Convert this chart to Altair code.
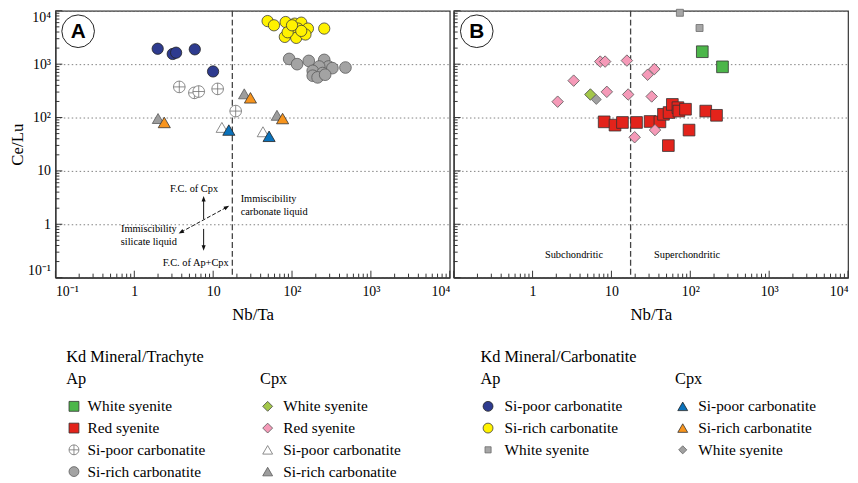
import altair as alt
import pandas as pd

SERIF = "Liberation Serif"
SANS = "Liberation Sans"
AX = "#333333"

# ---------------- values ----------------
# Panel A
tr_ap_sirich_x = [92, 116, 163, 256, 290, 221, 183, 244, 325, 183, 211, 476, 263]
tr_ap_sirich_y = [1253, 1000, 1151, 1202, 903, 903, 751, 681, 843, 607, 565, 865, 634]
tr_ap_sipoor_x = [3.72, 5.78, 6.56, 11.4, 19.3]
tr_ap_sipoor_y = [375, 290, 307, 344, 132]
tr_cpx_sirich_x = [2.0, 24.8, 64.4]
tr_cpx_sirich_y = [95.8, 278, 110]
tr_cpx_sipoor_x = [12.9, 42.8]
tr_cpx_sipoor_y = [65.3, 54.1]
ca_ap_sipoor_x = [1.98, 3.07, 3.39, 5.85, 9.97]
ca_ap_sipoor_y = [1945, 1552, 1640, 1896, 730]
ca_ap_sirich_x = [49, 59, 83, 108, 131, 159, 119, 98, 113, 81, 148, 256, 88, 131, 100]
ca_ap_sirich_y = [6415, 5346, 6150, 5745, 5995, 4645, 4645, 4018, 3110, 3245, 3594, 4645, 3960, 4200, 5350]
ca_cpx_sirich_x = [2.40, 29.7, 75.9]
ca_cpx_sirich_y = [80.8, 234, 95.7]
ca_cpx_sipoor_x = [15.8, 51.2]
ca_cpx_sipoor_y = [58.2, 44.5]

# Panel B
tr_ap_white_x = [142, 256]
tr_ap_white_y = [1711, 891]
tr_ap_red_x = [8.09, 11.1, 13.8, 20.8, 30.9, 41.2, 45.7, 53.8, 59.2, 69.7, 71.7, 86.9, 157, 215, 96.4, 52.7]
tr_ap_red_y = [83.0, 72.0, 80.8, 80.8, 84.3, 83.0, 115, 124, 176, 153, 132, 143, 132, 110, 58.2, 29.8]
tr_cpx_white_x = [5.41]
tr_cpx_white_y = [270]
tr_cpx_red_x = [7.21, 8.32, 15.7, 3.32, 2.08, 8.74, 16.3, 28.8, 35.0, 32.4, 35.7, 19.7]
tr_cpx_red_y = [1117, 1117, 1166, 491, 198, 303, 270, 634, 808, 248, 58.2, 42.7]
ca_ap_white_x = [73.8, 131]
ca_ap_white_y = [9180, 4760]
ca_cpx_white_x = [6.43]
ca_cpx_white_y = [218]

chondritic = [17.5]

axis_values = [0.1, 1, 10, 100, 1000, 10000]
minor_values = [m * 10.0 ** e for e in range(-1, 4) for m in range(2, 10)]

series = [
    ("A", "TrAp", "Si-rich carbonatite", tr_ap_sirich_x, tr_ap_sirich_y),
    ("A", "TrAp", "Si-poor carbonatite", tr_ap_sipoor_x, tr_ap_sipoor_y),
    ("A", "TrCpx", "Si-rich carbonatite", tr_cpx_sirich_x, tr_cpx_sirich_y),
    ("A", "TrCpx", "Si-poor carbonatite", tr_cpx_sipoor_x, tr_cpx_sipoor_y),
    ("A", "CaAp", "Si-poor carbonatite", ca_ap_sipoor_x, ca_ap_sipoor_y),
    ("A", "CaAp", "Si-rich carbonatite", ca_ap_sirich_x, ca_ap_sirich_y),
    ("A", "CaCpx", "Si-rich carbonatite", ca_cpx_sirich_x, ca_cpx_sirich_y),
    ("A", "CaCpx", "Si-poor carbonatite", ca_cpx_sipoor_x, ca_cpx_sipoor_y),
    ("B", "TrAp", "White syenite", tr_ap_white_x, tr_ap_white_y),
    ("B", "TrAp", "Red syenite", tr_ap_red_x, tr_ap_red_y),
    ("B", "TrCpx", "White syenite", tr_cpx_white_x, tr_cpx_white_y),
    ("B", "TrCpx", "Red syenite", tr_cpx_red_x, tr_cpx_red_y),
    ("B", "CaAp", "White syenite", ca_ap_white_x, ca_ap_white_y),
    ("B", "CaCpx", "White syenite", ca_cpx_white_x, ca_cpx_white_y),
]
rows = []
for panel, grp, label, xs, ys in series:
    for xv, yv in zip(xs, ys):
        rows.append({"panel": panel, "group": grp, "label": label, "x": xv, "y": yv})
df = pd.DataFrame(rows)

# annotations (data coordinates)
ann_center = pd.DataFrame({
    "x": [5.73, 1.53, 1.53, 6.0],
    "y": [4.5, 0.82, 0.46, 0.19],
    "t": ["F.C. of Cpx", "Immiscibility", "silicate liquid", "F.C. of Ap+Cpx"],
})
ann_left = pd.DataFrame({
    "x": [22.3, 22.3],
    "y": [3.0, 1.7],
    "t": ["Immiscibility", "carbonate liquid"],
})
arrow_solid = pd.DataFrame({"x": [7.57, 7.57], "y": [1.25, 0.818], "x2": [7.57, 7.57], "y2": [2.9, 0.38]})
arrow_dash = pd.DataFrame({"x": [3.91], "y": [0.711], "x2": [14.9], "y2": [2.09]})
arrow_heads = pd.DataFrame({"x": [7.57, 7.57, 14.9, 3.91], "y": [3.0, 0.36, 2.09, 0.711], "a": [0, 180, 61, 241]})
ann_b = pd.DataFrame({"x": [3.35, 91], "y": [0.262, 0.262], "t": ["Subchondritic", "Superchondritic"]})
badges = {"A": (0.194, 4140), "B": (0.196, 4140)}

PLUS_CIRCLE = "M-1,0A1,1,0,1,1,1,0A1,1,0,1,1,-1,0ZM-1,0L1,0M0,-1L0,1"
SMALL_SQUARE = "M-0.62,-0.62L0.62,-0.62L0.62,0.62L-0.62,0.62Z"
SMALL_DIAMOND = "M0,-0.82L0.82,0L0,0.82L-0.82,0Z"
ARROW = "M0,-1L0.75,1L-0.75,1Z"

GROUPS = {
    "TrAp": dict(
        domain=["White syenite", "Red syenite", "Si-poor carbonatite", "Si-rich carbonatite"],
        fill=["#4cb64a", "#e3231b", "#ffffff", "#a3a3a3"],
        stroke=["#333333", "#333333", "#707070", "#5a5a5a"],
        shape=["square", "square", PLUS_CIRCLE, "circle"],
        size=140, title=["Kd Mineral/Trachyte", "Ap"], lx=11, lo=6, owner="A"),
    "TrCpx": dict(
        domain=["White syenite", "Red syenite", "Si-poor carbonatite", "Si-rich carbonatite"],
        fill=["#a3c74a", "#f59ab8", "#ffffff", "#9d9d9d"],
        stroke=["#444444", "#555555", "#707070", "#5a5a5a"],
        shape=["diamond", "diamond", "triangle-up", "triangle-up"],
        size=135, title=["", "Cpx"], lx=207, lo=8, owner="A"),
    "CaAp": dict(
        domain=["Si-poor carbonatite", "Si-rich carbonatite", "White syenite"],
        fill=["#2e3b8f", "#fff200", "#a6a6a6"],
        stroke=["#222222", "#3a3a3a", "#6a6a6a"],
        shape=["circle", "circle", SMALL_SQUARE],
        size=130, title=["Kd Mineral/Carbonatite", "Ap"], lx=27, lo=9, owner="B"),
    "CaCpx": dict(
        domain=["Si-poor carbonatite", "Si-rich carbonatite", "White syenite"],
        fill=["#0b72bb", "#f7941d", "#a0a0a0"],
        stroke=["#222222", "#333333", "#666666"],
        shape=["triangle-up", "triangle-up", SMALL_DIAMOND],
        size=150, title=["", "Cpx"], lx=224, lo=8, owner="B"),
}
ORDER = ["TrAp", "TrCpx", "CaAp", "CaCpx"]

W, H = 399, 270
LABELS_EXPR_A = "['10\u207b\u00b9','1','10','10\u00b2','10\u00b3','10\u2074'][round(log(datum.value)/LN10)+1]"
LABELS_EXPR_B = "['','1','10','10\u00b2','10\u00b3','10\u2074'][round(log(datum.value)/LN10)+1]"


def make_legend(g):
    return alt.Legend(
        orient="none", legendX=g["lx"], legendY=342, direction="vertical",
        title=g["title"], titleFont=SERIF, titleFontSize=16.5, titleFontWeight="normal",
        titleColor="black", titleLineHeight=23, titlePadding=11, titleLimit=0,
        labelFont=SERIF, labelFontSize=15.5, labelColor="black", labelOffset=g["lo"], labelLimit=0,
        rowPadding=5, symbolSize=100, symbolStrokeWidth=0.8, padding=0,
    )


def make_panel(pid):
    first = pid == "A"
    xs = alt.Scale(type="log", domain=[0.1, 10000], nice=False)
    ys = alt.Scale(type="log", domain=[0.1, 10000], nice=False)
    xaxis = alt.Axis(values=axis_values, labelExpr=LABELS_EXPR_A if first else LABELS_EXPR_B,
                     tickSize=0, grid=False, title="Nb/Ta", labelFlush=True, labelPadding=7,
                     titlePadding=8, labelFont=SERIF, labelFontSize=14, labelColor="black",
                     titleFont=SERIF, titleFontSize=17, titleFontWeight="normal", titleColor="black",
                     domainColor=AX, domainWidth=1.2)
    if first:
        yaxis = alt.Axis(values=axis_values, labelExpr=LABELS_EXPR_A, tickSize=0, grid=True,
                         gridDash=[1.5, 2.5], gridColor="#808080", gridWidth=1,
                         title="Ce/Lu", labelFlush=True, labelPadding=5, titlePadding=1,
                         labelFont=SERIF, labelFontSize=14, labelColor="black",
                         titleFont=SERIF, titleFontSize=17, titleFontWeight="normal",
                         titleColor="black", domainColor=AX, domainWidth=1.2)
    else:
        yaxis = alt.Axis(values=axis_values, labels=False, tickSize=0, grid=True,
                         gridDash=[1.5, 2.5], gridColor="#808080", gridWidth=1,
                         title="", domainColor=AX, domainWidth=1.2, minExtent=0, maxExtent=0)

    def X(f):
        return alt.X(f + ":Q", scale=xs, axis=xaxis)

    def Y(f):
        return alt.Y(f + ":Q", scale=ys, axis=yaxis)

    def X2(f):
        return alt.X2(f + ":Q")

    def Y2(f):
        return alt.Y2(f + ":Q")

    layers = []
    maj = pd.DataFrame({"v": axis_values})
    mnr = pd.DataFrame({"v": minor_values})
    layers.append(alt.Chart(maj).mark_rule(color=AX, strokeWidth=1).encode(
        x=X("v"), y=alt.value(H), y2=alt.value(H - 7)))
    layers.append(alt.Chart(mnr).mark_rule(color=AX, strokeWidth=1).encode(
        x=X("v"), y=alt.value(H), y2=alt.value(H - 4)))
    layers.append(alt.Chart(maj).mark_rule(color=AX, strokeWidth=1).encode(
        y=Y("v"), x=alt.value(0), x2=alt.value(7)))
    layers.append(alt.Chart(mnr).mark_rule(color=AX, strokeWidth=1).encode(
        y=Y("v"), x=alt.value(0), x2=alt.value(4)))
    layers.append(alt.Chart(pd.DataFrame({"v": chondritic})).mark_rule(
        color="#444444", strokeWidth=1.3, strokeDash=[6, 3]).encode(x=X("v")))

    if first:
        layers.append(alt.Chart(arrow_solid).mark_rule(color="#111111", strokeWidth=1).encode(
            x=X("x"), y=Y("y"), x2=X2("x2"), y2=Y2("y2")))
        layers.append(alt.Chart(arrow_dash).mark_rule(color="#111111", strokeWidth=1,
                                                      strokeDash=[4, 2]).encode(
            x=X("x"), y=Y("y"), x2=X2("x2"), y2=Y2("y2")))
        layers.append(alt.Chart(arrow_heads).mark_point(shape=ARROW, filled=True, size=30,
                                                        color="#111111", opacity=1).encode(
            x=X("x"), y=Y("y"), angle=alt.Angle("a:Q", scale=None)))
        layers.append(alt.Chart(ann_center).mark_text(font=SERIF, fontSize=10.5, color="black",
                                                       align="center", baseline="middle").encode(
            x=X("x"), y=Y("y"), text="t:N"))
        layers.append(alt.Chart(ann_left).mark_text(font=SERIF, fontSize=10.5, color="black",
                                                     align="left", baseline="middle").encode(
            x=X("x"), y=Y("y"), text="t:N"))
    else:
        layers.append(alt.Chart(ann_b).mark_text(font=SERIF, fontSize=10.5, color="black",
                                                  align="center", baseline="middle").encode(
            x=X("x"), y=Y("y"), text="t:N"))

    for gk in ORDER:
        g = GROUPS[gk]
        sub = df[(df["panel"] == pid) & (df["group"] == gk)]
        leg = make_legend(g) if g["owner"] == pid else None
        enc = dict(
            x=X("x"), y=Y("y"),
            fill=alt.Fill("label:N", scale=alt.Scale(domain=g["domain"], range=g["fill"]), legend=leg),
            stroke=alt.Stroke("label:N", scale=alt.Scale(domain=g["domain"], range=g["stroke"]), legend=leg),
            shape=alt.Shape("label:N", scale=alt.Scale(domain=g["domain"], range=g["shape"]), legend=leg),
        )
        layers.append(alt.Chart(sub).mark_point(filled=True, strokeWidth=0.8, opacity=1,
                                                fillOpacity=1, size=g["size"]).encode(**enc))

    bx, by = badges[pid]
    bdf = pd.DataFrame({"x": [bx], "y": [by], "t": [pid]})
    layers.append(alt.Chart(bdf).mark_point(shape="circle", size=1090, filled=False,
                                            color="#222222", strokeWidth=1, opacity=1).encode(
        x=X("x"), y=Y("y")))
    layers.append(alt.Chart(bdf).mark_text(font=SANS, fontWeight="bold", fontSize=21,
                                           color="black", baseline="middle", dy=1).encode(
        x=X("x"), y=Y("y"), text="t:N"))

    return alt.layer(*layers).resolve_scale(
        fill="independent", stroke="independent", shape="independent"
    ).properties(width=W, height=H)


pa = make_panel("A")
pb = make_panel("B")

chart = alt.hconcat(pa, pb, spacing=0).resolve_scale(
    fill="independent", stroke="independent", shape="independent"
).properties(
    padding={"left": 0, "top": -4, "right": 0, "bottom": 0}, background="white"
).configure_view(stroke=AX, strokeWidth=1.2)

chart.save("out.html", embed_options={"renderer": "svg", "actions": False})
